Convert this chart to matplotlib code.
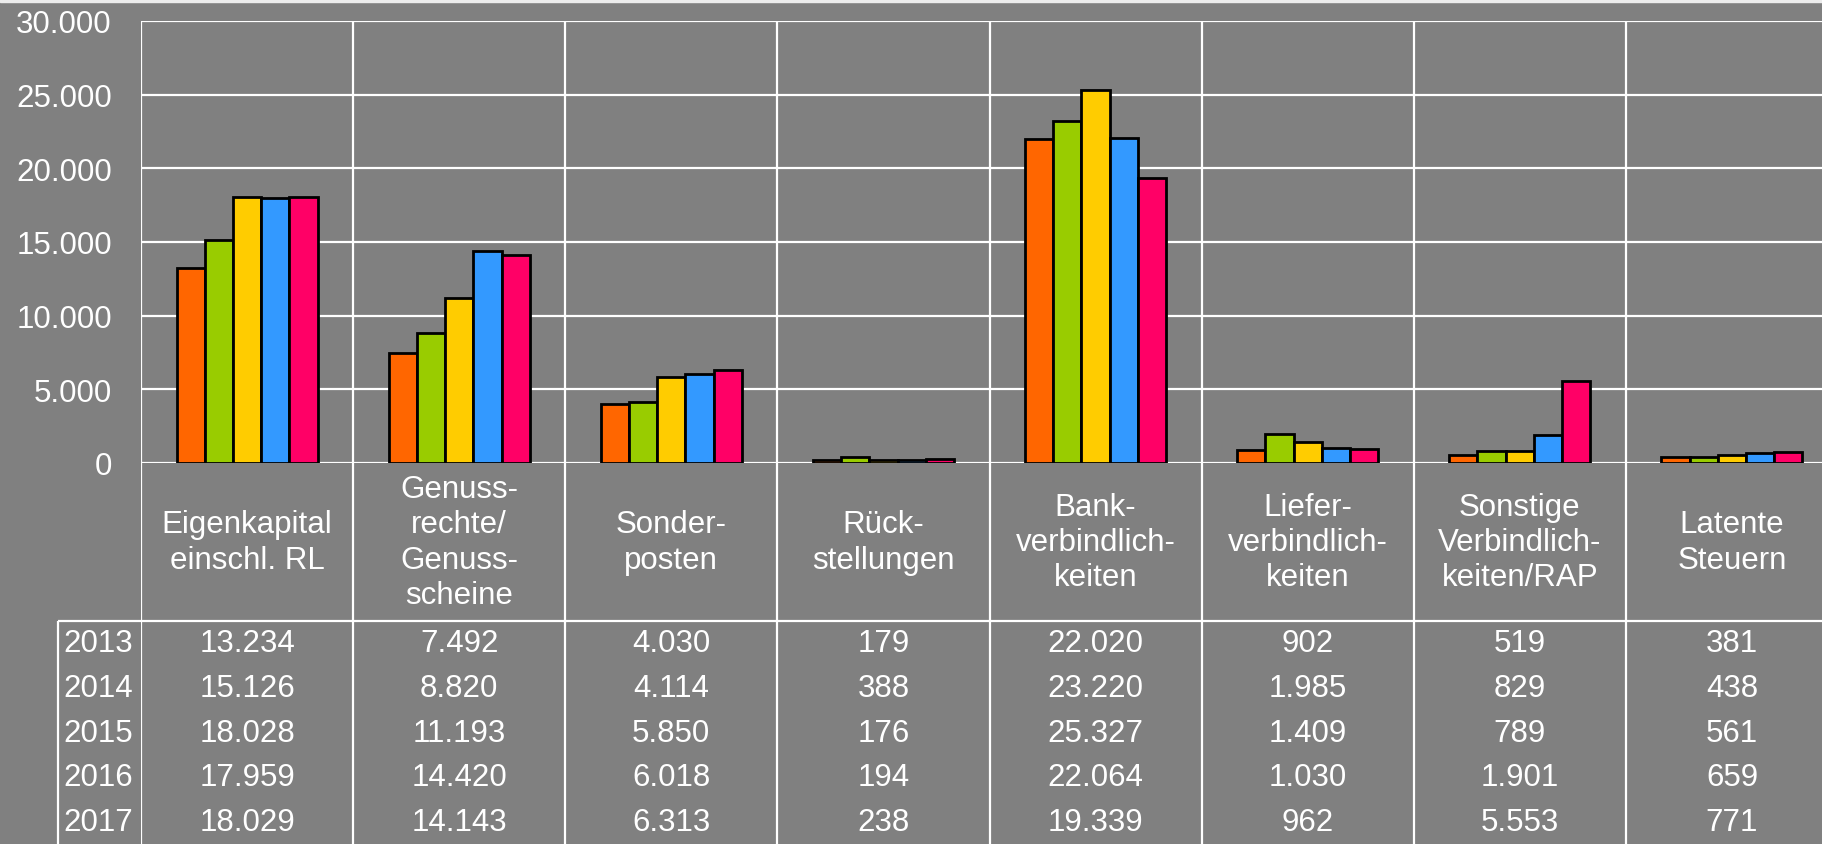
import numpy as np
import matplotlib
matplotlib.use('Agg')
import matplotlib.pyplot as plt
from matplotlib.patches import Rectangle

categories = ['Eigenkapital\neinschl. RL', 'Genuss-\nrechte/\nGenuss-\nscheine',
              'Sonder-\nposten', 'Rück-\nstellungen', 'Bank-\nverbindlich-\nkeiten',
              'Liefer-\nverbindlich-\nkeiten', 'Sonstige\nVerbindlich-\nkeiten/RAP',
              'Latente\nSteuern']
years = ['2013', '2014', '2015', '2016', '2017']
v2013 = [13234, 7492, 4030, 179, 22020, 902, 519, 381]
v2014 = [15126, 8820, 4114, 388, 23220, 1985, 829, 438]
v2015 = [18028, 11193, 5850, 176, 25327, 1409, 789, 561]
v2016 = [17959, 14420, 6018, 194, 22064, 1030, 1901, 659]
v2017 = [18029, 14143, 6313, 238, 19339, 962, 5553, 771]
series = [v2013, v2014, v2015, v2016, v2017]
colors = ['#FF6600', '#99CC00', '#FFCC00', '#3399FF', '#FF0066']
yticks = [0, 5000, 10000, 15000, 20000, 25000, 30000]

def de(v):
    return '{:,.0f}'.format(v).replace(',', '.')

plt.rcParams['font.family'] = ['Liberation Sans', 'DejaVu Sans']
FS = 22.5
W, H = 1822, 845
bg = '#808080'
fig = plt.figure(figsize=(W / 100, H / 100), dpi=100, facecolor=bg)
fig.patches.append(Rectangle((0, 1 - 3 / H), 1, 3 / H, transform=fig.transFigure,
                             color='#ececec', zorder=0))

x0, x1 = 141, 1838
ytop, ybase, ytab = 22, 464, 622
ax = fig.add_axes([x0 / W, (H - ybase) / H, (x1 - x0) / W, (ybase - ytop) / H])
ax.set_facecolor(bg)
n = len(categories)
x = np.arange(n) + 0.5
bw = 0.133
for i, vals in enumerate(series):
    ax.bar(x + (i - 2) * bw, vals, bw, color=colors[i], edgecolor='black',
           linewidth=2.0, zorder=3)
ax.set_xlim(0, n)
ax.set_ylim(0, 30000)
ax.set_yticks(yticks)
ax.set_yticklabels([de(v) for v in yticks])
ax.tick_params(axis='y', length=0, pad=21, colors='white', labelsize=FS)
ax.set_xticks([])
ax.grid(axis='y', color='white', linewidth=1.6, zorder=1)
ax.vlines(np.arange(n + 1), 0, 30000, color='white', linewidth=1.6, zorder=1)
for s in ax.spines.values():
    s.set_visible(False)

# category labels and data table below the chart (y in pixels from the top)
tab = fig.add_axes([x0 / W, 0, (x1 - x0) / W, (H - ybase) / H])
tab.set_xlim(0, n)
tab.set_ylim(H, ybase)
tab.axis('off')
xl = -(x0 - 58) / ((x1 - x0) / n)
tab.vlines(np.arange(n + 1), ybase, H, color='white', linewidth=1.6)
tab.vlines([xl], ytab, H, color='white', linewidth=1.6, clip_on=False)
tab.hlines([ytab], xl, n, color='white', linewidth=1.6, clip_on=False)
for j, c in enumerate(categories):
    tab.text(j + 0.5, (ybase + ytab) / 2, c, ha='center', va='center',
             color='white', fontsize=FS, linespacing=1.22)
rh = (H - ytab) / len(years)
for i, yr in enumerate(years):
    yc = ytab + rh * (i + 0.5)
    tab.text(xl + 0.025, yc, yr, ha='left', va='center', color='white',
             fontsize=FS, clip_on=False)
    for j in range(n):
        tab.text(j + 0.5, yc, de(series[i][j]), ha='center', va='center',
                 color='white', fontsize=FS)

fig.savefig('out.png', dpi=100, facecolor=bg)
